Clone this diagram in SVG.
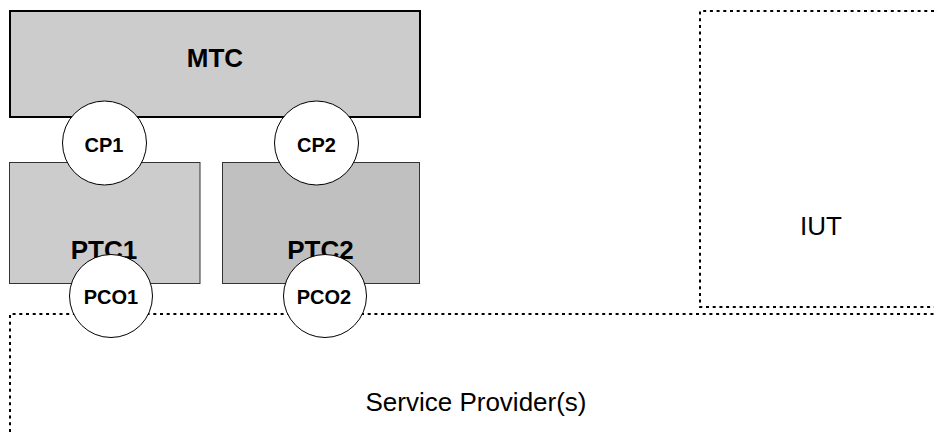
<svg xmlns="http://www.w3.org/2000/svg" width="934" height="432" viewBox="0 0 934 432">
<style>
.bold{font-family:"Liberation Sans",Arial,sans-serif;font-weight:bold;fill:#000;text-anchor:middle}
.reg{font-family:"Liberation Sans",Arial,sans-serif;fill:#000;text-anchor:middle;font-size:26px}
.dot{fill:none;stroke:#000;stroke-width:2;stroke-dasharray:3 3.7}
.port{fill:#fff;stroke:#000;stroke-width:1}
.ptc{stroke:#333;stroke-width:1}
</style>
<rect width="934" height="432" fill="#fff"/>
<g id="sp">
<path class="dot" d="M10,432 V314 H934"/>
<text class="reg" x="476" y="411">Service Provider(s)</text>
</g>
<g id="iut">
<path class="dot" d="M934,11 H700 V307 H934"/>
<text class="reg" x="821" y="235">IUT</text>
</g>
<g id="mtc">
<rect x="10" y="11" width="410" height="106" fill="#cccccc" stroke="#000" stroke-width="2"/>
<text class="bold" x="215" y="67" font-size="26">MTC</text>
</g>
<g id="ptc1">
<rect class="ptc" x="9.5" y="162.5" width="190.5" height="121" fill="#cccccc"/>
<text class="bold" x="104" y="259" font-size="26">PTC1</text>
</g>
<g id="ptc2">
<rect class="ptc" x="222.5" y="162.5" width="197" height="121" fill="#c0c0c0"/>
<text class="bold" x="320.5" y="259" font-size="26">PTC2</text>
</g>
<g id="cp1">
<circle class="port" cx="104.5" cy="143" r="42"/>
<text class="bold" x="104" y="152" font-size="20">CP1</text>
</g>
<g id="cp2">
<circle class="port" cx="316.5" cy="143" r="42"/>
<text class="bold" x="316.5" y="152" font-size="20">CP2</text>
</g>
<g id="pco1">
<circle class="port" cx="111" cy="296" r="41.5"/>
<text class="bold" x="111" y="304" font-size="20">PCO1</text>
</g>
<g id="pco2">
<circle class="port" cx="325" cy="296" r="41.5"/>
<text class="bold" x="324" y="304" font-size="20">PCO2</text>
</g>
<g id="connectors"/>
</svg>
